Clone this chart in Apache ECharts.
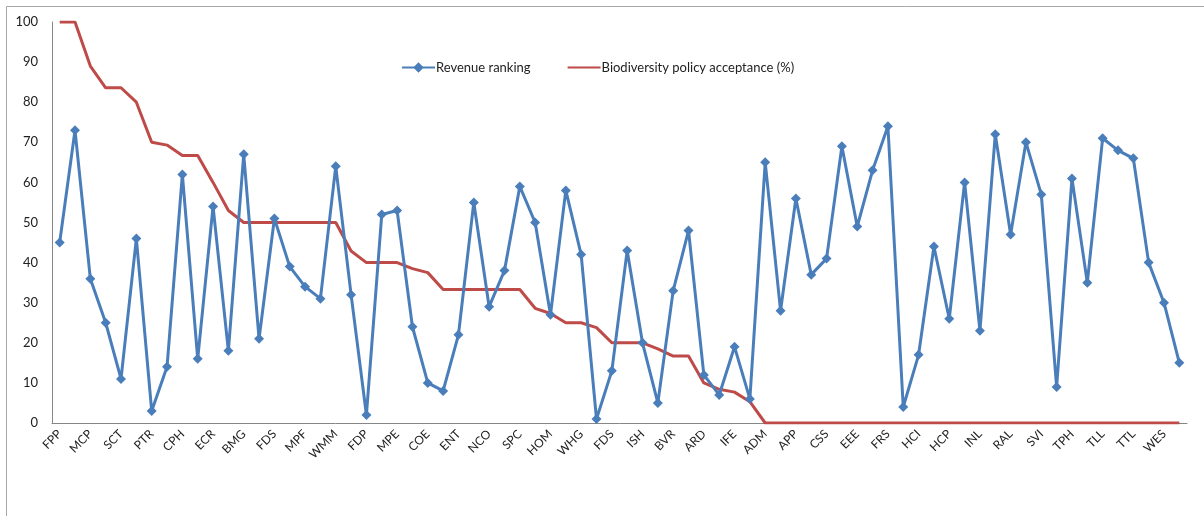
<!DOCTYPE html>
<html>
<head>
<meta charset="utf-8">
<script src="https://cdn.jsdelivr.net/npm/echarts@6/dist/echarts.min.js"></script>
<style>
html,body{margin:0;padding:0;background:#fff;}
#c{width:1204px;height:516px;}
</style>
</head>
<body>
<div id="c"></div>
<script>
// Categories: every second name is shown on the axis; unlabeled ones are blank.
const categories = [
 'FPP','', 'MCP','', 'SCT','', 'PTR','', 'CPH','', 'ECR','', 'BMG','', 'FDS','', 'MPF','', 'WMM','',
 'FDP','', 'MPE','', 'COE','', 'ENT','', 'NCO','', 'SPC','', 'HOM','', 'WHG','', 'FDS','', 'ISH','',
 'BVR','', 'ARD','', 'IFE','', 'ADM','', 'APP','', 'CSS','', 'EEE','', 'FRS','', 'HCI','', 'HCP','',
 'INL','', 'RAL','', 'SVI','', 'TPH','', 'TLL','', 'TTL','', 'WES',''
];
const revenueRanking = [
 45,73,36,25,11,46,3,14,62,16,54,18,67,21,51,39,34,31,64,32,2,52,53,24,
 10,8,22,55,29,38,59,50,27,58,42,1,13,43,20,5,33,48,12,7,19,6,65,28,56,37,
 41,69,49,63,74,4,17,44,26,60,23,72,47,70,57,9,61,35,71,68,66,40,30,15
];
const policyAcceptance = [
 100,100,89,83.6,83.6,80,70,69.3,66.7,66.7,60,53,50,50,50,50,50,50,50,42.9,40,40,40,38.5,
 37.5,33.3,33.3,33.3,33.3,33.3,33.3,28.6,27.3,25,25,23.8,20,20,20,18.5,16.7,16.7,10,8.4,7.7,5.3,
 0,0,0,0,0,0,0,0,0,0,0,0,0,0,0,0,0,0,0,0,0,0,0,0,0,0,0,0
];
const yTicks = [0,10,20,30,40,50,60,70,80,90,100];

const FONT = 'Lato, "Liberation Sans", sans-serif';
const chart = echarts.init(document.getElementById('c'), null, {renderer:'canvas'});
chart.setOption({
  animation:false,
  backgroundColor:'#fff',
  textStyle:{fontFamily:FONT},
  graphic:[{type:'rect',shape:{x:6.5,y:6.5,width:1220,height:540},style:{fill:'none',stroke:'#a6a6a6',lineWidth:1},silent:true,z:-1}],
  legend:{
    left:396, top:56, itemWidth:33, itemHeight:13, itemGap:36,
    textStyle:{fontFamily:FONT,fontSize:13,color:'#222',padding:[0,0,0,-4]},
    data:[
      {name:'Revenue ranking'},
      {name:'Biodiversity policy acceptance (%)',itemStyle:{color:'rgba(0,0,0,0)',borderWidth:0,opacity:0}}
    ]
  },
  grid:{left:52,right:17,top:22,bottom:93,containLabel:false},
  xAxis:{
    type:'category', data:categories, boundaryGap:true,
    axisLine:{lineStyle:{color:'#868686',width:1}},
    axisTick:{show:false},
    axisLabel:{interval:0,rotate:45,margin:9,fontFamily:FONT,fontSize:12,color:'#222'}
  },
  yAxis:{
    type:'value', min:yTicks[0], max:yTicks[yTicks.length-1], interval:10,
    axisLine:{show:true,lineStyle:{color:'#868686',width:1}},
    axisTick:{show:false},
    splitLine:{show:false},
    axisLabel:{margin:14,fontFamily:FONT,fontSize:13,color:'#222'}
  },
  series:[
    {name:'Revenue ranking',type:'line',data:revenueRanking,
     symbol:'diamond',symbolSize:10,
     lineStyle:{color:'#4a7ebb',width:3},
     itemStyle:{color:'#4a7ebb'},z:3},
    {name:'Biodiversity policy acceptance (%)',type:'line',data:policyAcceptance,
     symbol:'none',
     lineStyle:{color:'#be4b48',width:3},
     itemStyle:{color:'#be4b48'},z:2}
  ]
});
</script>
</body>
</html>
